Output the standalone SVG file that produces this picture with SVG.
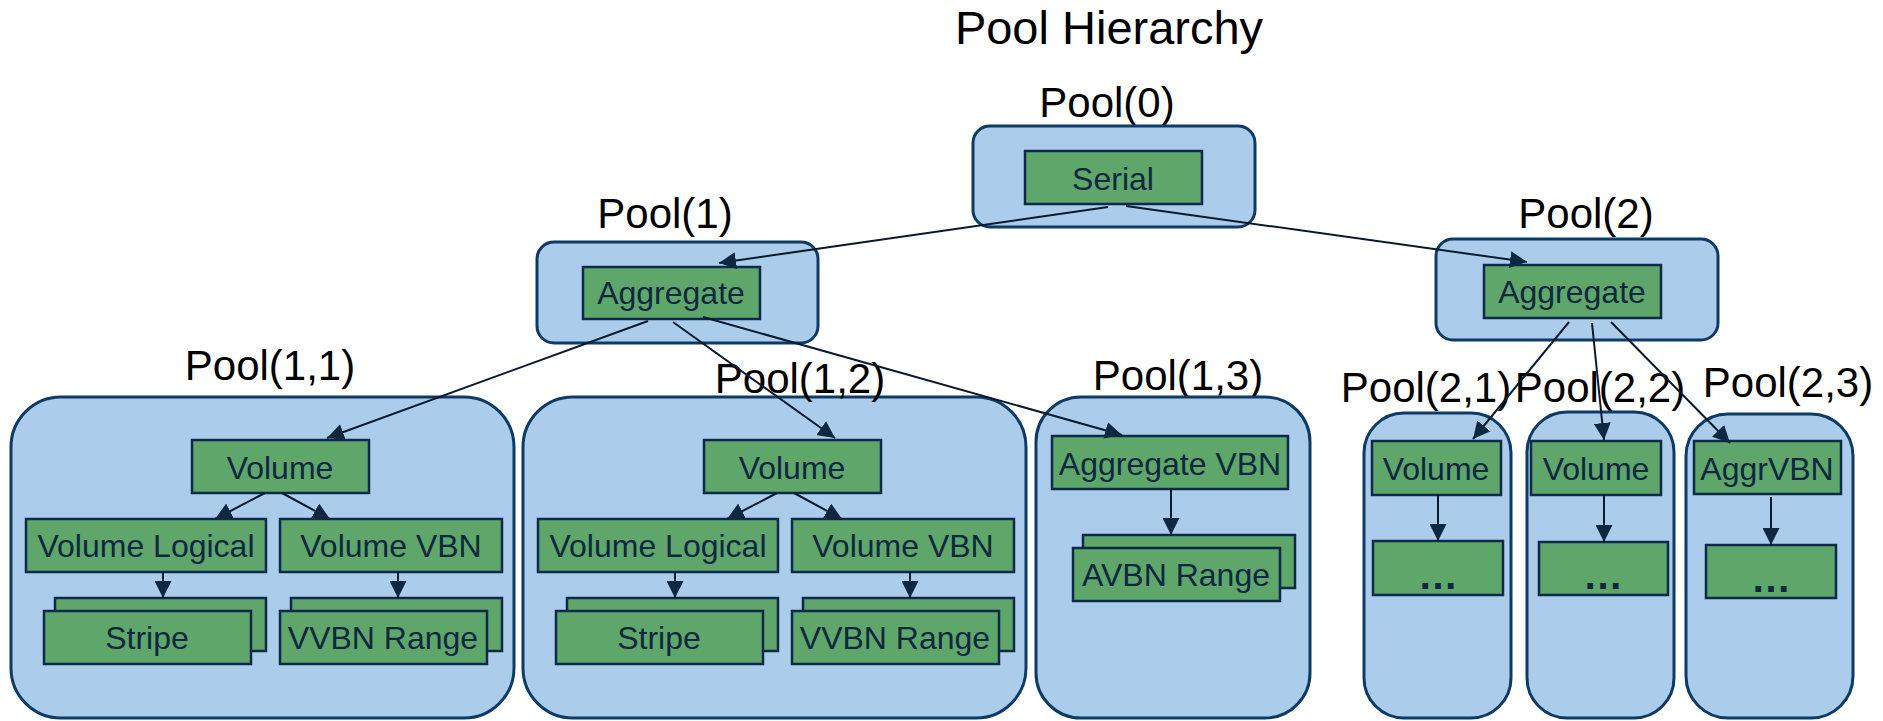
<svg xmlns="http://www.w3.org/2000/svg" width="1883" height="721" viewBox="0 0 1883 721">
<defs>
<style>
.pool{fill:#abcdeb;stroke:#0e3a66;stroke-width:3}
.box{fill:#5fa66a;stroke:#0e2a4a;stroke-width:2.5}
.t{font-family:"Liberation Sans",Arial,sans-serif;font-size:32px;fill:#0e2841;text-anchor:middle}
.dots{font-family:"Liberation Sans",Arial,sans-serif;font-size:40px;font-weight:bold;fill:#0e2841;text-anchor:middle}
.lbl{font-family:"Liberation Sans",Arial,sans-serif;font-size:42px;fill:#000;text-anchor:middle}
.title{font-family:"Liberation Sans",Arial,sans-serif;font-size:47px;fill:#000;text-anchor:middle}
.c{stroke:#0a1a2e;stroke-width:2;fill:none;marker-end:url(#ah)}
</style>
<marker id="ah" markerUnits="userSpaceOnUse" markerWidth="17" markerHeight="17" refX="17" refY="8.5" orient="auto">
<path d="M0,0 L17,8.5 L0,17 z" fill="#0e2841"/>
</marker>
</defs>
<rect width="1883" height="721" fill="#fff"/>
<text class="title" x="1109" y="44">Pool Hierarchy</text>

<g id="pool0">
<text class="lbl" x="1107" y="117">Pool(0)</text>
<rect class="pool" x="973" y="126" width="282" height="101" rx="17"/>
<rect class="box" x="1025" y="151" width="177" height="53"/>
<text class="t" x="1113" y="190">Serial</text>
</g>

<g id="pool1">
<text class="lbl" x="665" y="228">Pool(1)</text>
<rect class="pool" x="537" y="242" width="281" height="101" rx="17"/>
<rect class="box" x="583" y="267" width="177" height="52"/>
<text class="t" x="671" y="304">Aggregate</text>
</g>

<g id="pool2">
<text class="lbl" x="1586" y="228">Pool(2)</text>
<rect class="pool" x="1436" y="239" width="282" height="101" rx="17"/>
<rect class="box" x="1484" y="265" width="177" height="53"/>
<text class="t" x="1572" y="303">Aggregate</text>
</g>

<g id="pool11">
<text class="lbl" x="270" y="380">Pool(1,1)</text>
<rect class="pool" x="11" y="397" width="503" height="321" rx="50"/>
<rect class="box" x="192" y="440" width="177" height="53"/>
<text class="t" x="280" y="479">Volume</text>
<rect class="box" x="26" y="519" width="240" height="53"/>
<text class="t" x="146" y="557">Volume Logical</text>
<rect class="box" x="280" y="519" width="222" height="53"/>
<text class="t" x="391" y="557">Volume VBN</text>
<rect class="box" x="55" y="598" width="211" height="53"/>
<rect class="box" x="44" y="611" width="207" height="53"/>
<text class="t" x="147" y="649">Stripe</text>
<rect class="box" x="291" y="598" width="211" height="53"/>
<rect class="box" x="280" y="611" width="207" height="53"/>
<text class="t" x="383" y="649">VVBN Range</text>
</g>

<g id="pool12">
<rect class="pool" x="523" y="397" width="503" height="321" rx="50"/>
<text class="lbl" x="800" y="393">Pool(1,2)</text>
<rect class="box" x="704" y="440" width="177" height="53"/>
<text class="t" x="792" y="479">Volume</text>
<rect class="box" x="538" y="519" width="240" height="53"/>
<text class="t" x="658" y="557">Volume Logical</text>
<rect class="box" x="792" y="519" width="222" height="53"/>
<text class="t" x="903" y="557">Volume VBN</text>
<rect class="box" x="567" y="598" width="211" height="53"/>
<rect class="box" x="556" y="611" width="207" height="53"/>
<text class="t" x="659" y="649">Stripe</text>
<rect class="box" x="803" y="598" width="211" height="53"/>
<rect class="box" x="792" y="611" width="207" height="53"/>
<text class="t" x="895" y="649">VVBN Range</text>
</g>

<g id="pool13">
<text class="lbl" x="1178" y="390">Pool(1,3)</text>
<rect class="pool" x="1036" y="397" width="274" height="321" rx="45"/>
<rect class="box" x="1052" y="436" width="236" height="53"/>
<text class="t" x="1170" y="475">Aggregate VBN</text>
<rect class="box" x="1083" y="535" width="212" height="53"/>
<rect class="box" x="1073" y="548" width="207" height="53"/>
<text class="t" x="1176" y="586">AVBN Range</text>
</g>

<g id="pool21">
<text class="lbl" x="1426" y="402">Pool(2,1)</text>
<rect class="pool" x="1364" y="413" width="147" height="305" rx="40"/>
<rect class="box" x="1372" y="441" width="129" height="54"/>
<text class="t" x="1436" y="480">Volume</text>
<rect class="box" x="1373" y="541" width="130" height="54"/>
<text class="dots" x="1438" y="589">…</text>
</g>

<g id="pool22">
<text class="lbl" x="1600" y="402">Pool(2,2)</text>
<rect class="pool" x="1527" y="412" width="147" height="306" rx="40"/>
<rect class="box" x="1531" y="441" width="130" height="54"/>
<text class="t" x="1596" y="480">Volume</text>
<rect class="box" x="1539" y="542" width="129" height="53"/>
<text class="dots" x="1603" y="589">…</text>
</g>

<g id="pool23">
<text class="lbl" x="1788" y="397">Pool(2,3)</text>
<rect class="pool" x="1686" y="414" width="167" height="304" rx="42"/>
<rect class="box" x="1694" y="441" width="147" height="53"/>
<text class="t" x="1767" y="480">AggrVBN</text>
<rect class="box" x="1706" y="545" width="130" height="53"/>
<text class="dots" x="1771" y="592">…</text>
</g>

<g id="connectors">
<line class="c" x1="1108" y1="207" x2="719" y2="263"/>
<line class="c" x1="1126" y1="206" x2="1527" y2="262"/>
<line class="c" x1="648" y1="321" x2="327" y2="438"/>
<line class="c" x1="673" y1="322" x2="835" y2="438"/>
<line class="c" x1="703" y1="317" x2="1122" y2="435"/>
<line class="c" x1="1569" y1="322" x2="1473" y2="439"/>
<line class="c" x1="1592" y1="323" x2="1604" y2="440"/>
<line class="c" x1="1611" y1="322" x2="1730" y2="443"/>
<line class="c" x1="265" y1="493" x2="215" y2="519"/>
<line class="c" x1="282" y1="493" x2="330" y2="519"/>
<line class="c" x1="163" y1="572" x2="163" y2="598"/>
<line class="c" x1="398" y1="572" x2="398" y2="598"/>
<line class="c" x1="777" y1="493" x2="727" y2="519"/>
<line class="c" x1="794" y1="493" x2="842" y2="519"/>
<line class="c" x1="675" y1="572" x2="675" y2="598"/>
<line class="c" x1="910" y1="572" x2="910" y2="598"/>
<line class="c" x1="1171" y1="489" x2="1171" y2="535"/>
<line class="c" x1="1438" y1="495" x2="1438" y2="541"/>
<line class="c" x1="1604" y1="495" x2="1604" y2="542"/>
<line class="c" x1="1771" y1="497" x2="1771" y2="545"/>
</g>
</svg>
